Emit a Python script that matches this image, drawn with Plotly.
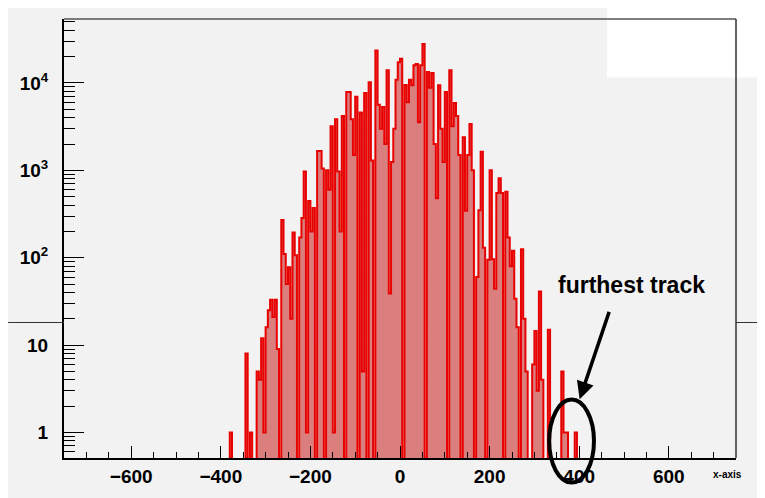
import numpy as np
import plotly.graph_objects as go

# ---- data: histogram counts, 5-unit bins starting at -380 ----
bin_start = -380
bin_width = 5
counts = [
    1, 0, 0, 0, 0, 0, 0, 8, 0, 1,
    0, 0, 5, 4, 12, 1, 16, 25, 33, 21,
    33, 9, 0, 270, 110, 50, 78, 20, 195, 107,
    0, 170, 285, 970, 1, 445, 200, 370, 0, 1670,
    1670, 1050, 0, 1000, 600, 3200, 1, 3850, 970, 200,
    4200, 0, 7900, 7900, 3850, 1500, 6950, 0, 4600, 5,
    7700, 0, 10200, 1300, 0, 23600, 5650, 3000, 5300, 2000,
    14000, 39, 1250, 3000, 10900, 17300, 19000, 0, 9500, 6000,
    10900, 9400, 16000, 16500, 3550, 16000, 28000, 0, 13400, 8800,
    13000, 2000, 480, 9400, 3000, 1250, 7900, 0, 14000, 3200,
    5900, 4200, 1500, 0, 2400, 345, 1500, 3400, 1000, 0,
    60, 350, 1630, 130, 0, 95, 1000, 96, 44, 550,
    810, 550, 0, 570, 170, 80, 120, 34, 16, 0,
    125, 20, 5, 0, 0, 6, 14.5, 3, 41, 4,
    0, 0, 15, 0, 0, 0, 0, 0, 5, 1,
    1, 0, 0, 0, 1, 0,
]
y_tick_vals = [1, 10, 100, 1000, 10000]
y_tick_text = ["1", "10", "10<sup>2</sup>", "10<sup>3</sup>", "10<sup>4</sup>"]
x_tick_vals = [-600, -400, -200, 0, 200, 400, 600]
x_title = "x-axis"
note_text = "furthest track"

# ---- build the step outline (ROOT-like histogram) ----
n = len(counts)
edges = bin_start + bin_width * np.arange(n + 1)
floor = 0.1  # below the visible log range, stands in for empty bins
vals = [c if c > 0 else floor for c in counts]
xs = [edges[0]] + list(edges) + [edges[-1]]
ys = [floor] + vals + [vals[-1]] + [floor]

fig = go.Figure()
fig.add_trace(go.Scatter(
    x=xs, y=ys, mode="lines", line_shape="hv",
    line=dict(color="rgb(232,0,0)", width=2),
    fill="toself", fillcolor="rgb(218,126,126)",
    showlegend=False, hoverinfo="skip",
))

minor_y = [m * 10 ** e for e in range(-1, 5) for m in range(2, 10)]
minor_y = [v for v in minor_y if 0.51 <= v <= 54000]

fig.update_layout(
    width=757, height=490,
    margin=dict(l=56, r=29, t=11, b=35),
    paper_bgcolor="#f2f2f2",
    plot_bgcolor="rgba(0,0,0,0)",
    font=dict(family="Liberation Sans", color="black"),
    showlegend=False,
)
fig.update_xaxes(
    range=[-750, 750], showgrid=False, zeroline=False,
    showline=True, linecolor="black", linewidth=2,
    tickmode="array", tickvals=x_tick_vals,
    ticks="inside", ticklen=12, tickwidth=1, tickcolor="black",
    tickfont=dict(family="Liberation Sans", size=19, weight="bold"),
    minor=dict(dtick=50, tick0=0, ticks="inside", ticklen=6, tickwidth=1, tickcolor="black", showgrid=False),
)
fig.update_yaxes(
    type="log", range=[np.log10(0.51), np.log10(54000)],
    showgrid=False, zeroline=False,
    showline=True, linecolor="black", linewidth=2,
    tickmode="array", tickvals=y_tick_vals, ticktext=y_tick_text,
    ticks="inside", ticklen=20, tickwidth=1, tickcolor="black",
    ticklabelstandoff=10,
    tickfont=dict(family="Liberation Sans", size=19, weight="bold"),
    minor=dict(tickmode="array", tickvals=minor_y, ticks="inside", ticklen=11,
               tickwidth=1, tickcolor="black", showgrid=False),
)

shapes = [
    # white box in the top-right corner of the canvas
    dict(type="rect", xref="paper", yref="paper", x0=0.808, x1=1.06, y0=0.867, y1=1.04,
         fillcolor="white", line=dict(width=0), layer="below"),
    # frame top and right
    dict(type="line", xref="paper", yref="paper", x0=0, x1=1, y0=1, y1=1,
         line=dict(color="#555555", width=1.5)),
    dict(type="line", xref="paper", yref="paper", x0=1, x1=1, y0=0, y1=1,
         line=dict(color="#333333", width=1.5)),
    # horizontal line outside the frame
    dict(type="line", xref="paper", yref="paper", x0=-0.0833, x1=0, y0=0.3086, y1=0.3086,
         line=dict(color="#333333", width=1.2)),
    dict(type="line", xref="paper", yref="paper", x0=1, x1=1.05, y0=0.3086, y1=0.3086,
         line=dict(color="#333333", width=1.2)),
    # ellipse around the furthest track
    dict(type="circle", xref="x", yref="paper", x0=333, x1=433, y0=-0.056, y1=0.133,
         line=dict(color="black", width=4), layer="above"),
]
fig.update_layout(shapes=shapes)

fig.add_annotation(
    text=x_title, xref="paper", yref="paper", x=1, y=0,
    xanchor="right", yanchor="top", xshift=8, yshift=-9, showarrow=False,
    font=dict(family="Liberation Sans", size=10, weight="bold", color="black"),
)
fig.add_annotation(
    text=note_text, xref="x", yref="y", x=517, y=np.log10(49),
    xanchor="center", yanchor="middle", showarrow=False,
    font=dict(family="Liberation Sans", size=23, weight="bold", color="black"),
)
fig.add_annotation(
    text="", xref="x", yref="y", x=401, y=np.log10(2.4),
    axref="x", ayref="y", ax=468, ay=np.log10(25),
    showarrow=True, arrowhead=2, arrowsize=1, arrowwidth=3.5, arrowcolor="black",
)

fig.write_html("out.html")
